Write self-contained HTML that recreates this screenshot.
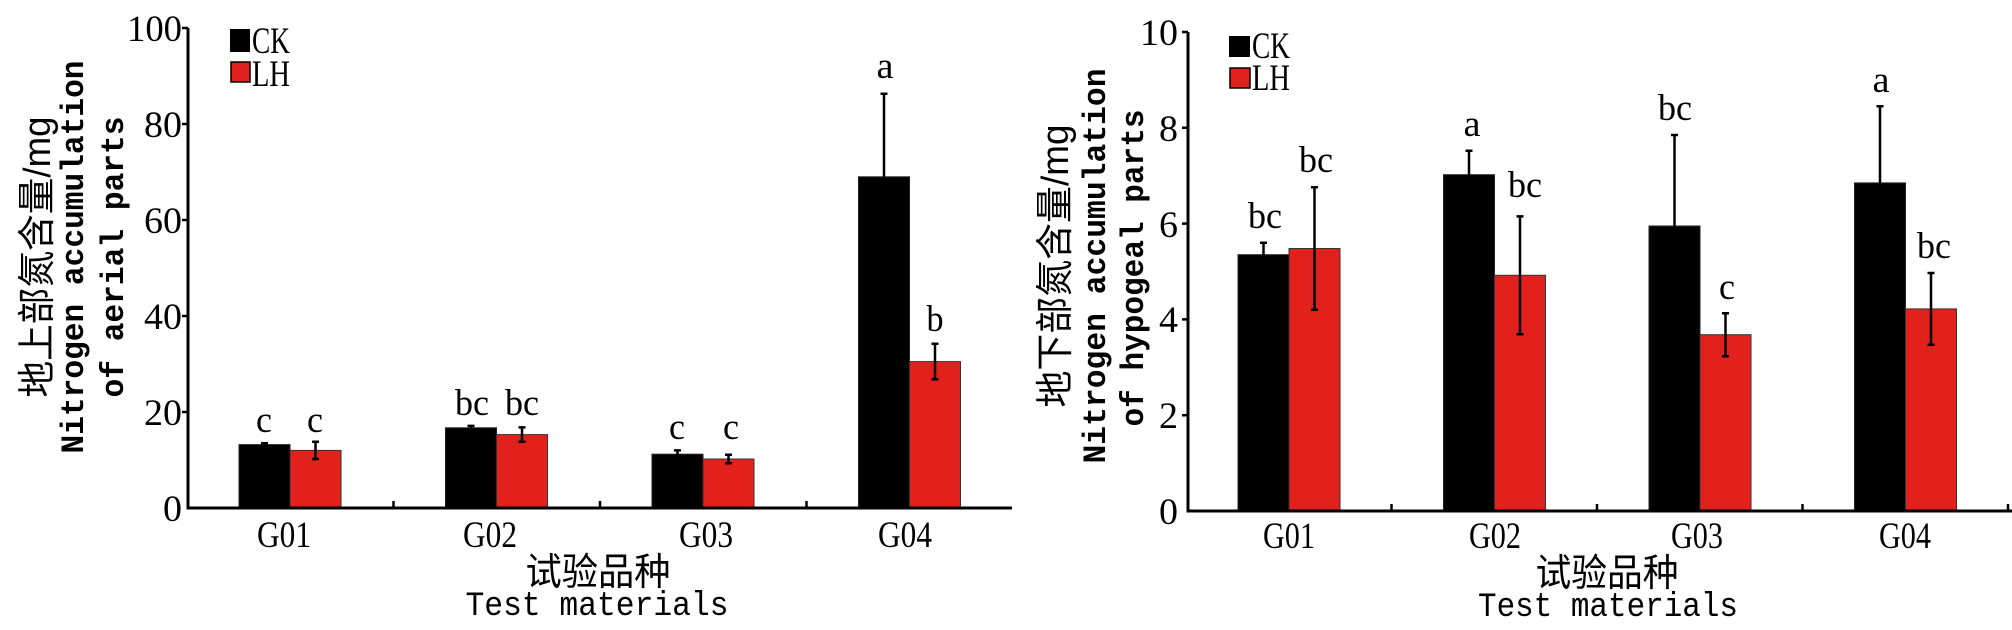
<!DOCTYPE html>
<html><head><meta charset="utf-8"><style>
html,body{margin:0;padding:0;background:#fff;}
svg{display:block;}
text{fill:#000;}
.n{font-family:"Liberation Serif",serif;font-size:37px;}
.m{font-family:"Liberation Mono",monospace;font-size:32px;font-weight:bold;}
.t{font-family:"Liberation Mono",monospace;font-size:34px;}
.c{font-family:"Liberation Sans","Noto Sans CJK SC",sans-serif;font-size:38px;}
.l{font-family:"Liberation Serif",serif;font-size:37px;}
</style></head><body>
<svg width="2012" height="630" viewBox="0 0 2012 630" xmlns="http://www.w3.org/2000/svg">
<g stroke="#000" fill="none">
<g>
<rect x="239" y="444.6" width="51" height="63.4" fill="#000" stroke="#222"/>
<rect x="290" y="450.4" width="51" height="57.6" fill="#e3211c" stroke="#333"/>
<rect x="445.5" y="427.8" width="51" height="80.2" fill="#000" stroke="#222"/>
<rect x="496.5" y="434.6" width="51" height="73.4" fill="#e3211c" stroke="#333"/>
<rect x="652" y="454.2" width="51" height="53.8" fill="#000" stroke="#222"/>
<rect x="703" y="459" width="51" height="49" fill="#e3211c" stroke="#333"/>
<rect x="858.5" y="176.8" width="51" height="331.2" fill="#000" stroke="#222"/>
<rect x="909.5" y="361.6" width="51" height="146.4" fill="#e3211c" stroke="#333"/>
</g>
<g stroke-width="2.5">
<path d="M264.5 443.2V446M261 443.2h7M261 446h7"/>
<path d="M315.5 441.8V459M312 441.8h7M312 459h7"/>
<path d="M471 425.9V429.7M467.5 425.9h7"/>
<path d="M522 427.4V441.8M518.5 427.4h7M518.5 441.8h7"/>
<path d="M677.5 450.4V458M674 450.4h7M674 458h7"/>
<path d="M728.5 454.7V463.3M725 454.7h7M725 463.3h7"/>
<path d="M884 93.8V176.8M880.5 93.8h7"/>
<path d="M935 343.8V379.4M931.5 343.8h7M931.5 379.4h7"/>
</g>
<path d="M188 28V508H1012" stroke-width="3"/>
<path d="M182 28h6M182 124h6M182 220h6M182 316h6M182 412h6M393.5 508v-7M600 508v-7M806.5 508v-7" stroke-width="2.5"/>
<g>
<rect x="1238" y="254.7" width="51" height="256.3" fill="#000" stroke="#222"/>
<rect x="1289" y="248.5" width="51" height="262.5" fill="#e3211c" stroke="#333"/>
<rect x="1443.5" y="174.7" width="51" height="336.3" fill="#000" stroke="#222"/>
<rect x="1494.5" y="275.3" width="51" height="235.7" fill="#e3211c" stroke="#333"/>
<rect x="1649" y="226" width="51" height="285" fill="#000" stroke="#222"/>
<rect x="1700" y="334.7" width="51" height="176.3" fill="#e3211c" stroke="#333"/>
<rect x="1854.5" y="182.9" width="51" height="328.1" fill="#000" stroke="#222"/>
<rect x="1905.5" y="308.9" width="51" height="202.1" fill="#e3211c" stroke="#333"/>
</g>
<g stroke-width="2.5">
<path d="M1263.5 242.7V254.7M1260 242.7h7"/>
<path d="M1314.5 187.2V309.8M1311 187.2h7M1311 309.8h7"/>
<path d="M1469 150.8V174.7M1465.5 150.8h7"/>
<path d="M1520 216.4V334.2M1516.5 216.4h7M1516.5 334.2h7"/>
<path d="M1674.5 135V226M1671 135h7"/>
<path d="M1725.5 313.2V356.3M1722 313.2h7M1722 356.3h7"/>
<path d="M1880 106.3V182.9M1876.5 106.3h7"/>
<path d="M1931 273V344.8M1927.5 273h7M1927.5 344.8h7"/>
</g>
<path d="M1188 32V511H2012" stroke-width="3"/>
<path d="M1182 32h6M1182 127.8h6M1182 223.6h6M1182 319.4h6M1182 415.2h6M1391.5 511v-7M1597 511v-7M1802.5 511v-7M2008 511v-7" stroke-width="2.5"/>
</g>
<rect x="230" y="29" width="20" height="23" fill="#000"/>
<rect x="231" y="62" width="19" height="20" fill="#e3211c" stroke="#000" stroke-width="1.5"/>
<text class="l" x="252" y="53" textLength="38" lengthAdjust="spacingAndGlyphs">CK</text>
<text class="l" x="252" y="86" textLength="38" lengthAdjust="spacingAndGlyphs">LH</text>
<rect x="1229" y="36" width="21" height="21" fill="#000"/>
<rect x="1230" y="68" width="20" height="20" fill="#e3211c" stroke="#000" stroke-width="1.5"/>
<text class="l" x="1252" y="58" textLength="38" lengthAdjust="spacingAndGlyphs">CK</text>
<text class="l" x="1252" y="90" textLength="38" lengthAdjust="spacingAndGlyphs">LH</text>
<g class="n" text-anchor="end">
<text x="182" y="41" textLength="55" lengthAdjust="spacingAndGlyphs">100</text>
<text x="182" y="137" textLength="38" lengthAdjust="spacingAndGlyphs">80</text>
<text x="182" y="233" textLength="38" lengthAdjust="spacingAndGlyphs">60</text>
<text x="182" y="329" textLength="38" lengthAdjust="spacingAndGlyphs">40</text>
<text x="182" y="425" textLength="38" lengthAdjust="spacingAndGlyphs">20</text>
<text x="182" y="521" textLength="19" lengthAdjust="spacingAndGlyphs">0</text>
<text x="1178" y="45" textLength="38" lengthAdjust="spacingAndGlyphs">10</text>
<text x="1178" y="141" textLength="19" lengthAdjust="spacingAndGlyphs">8</text>
<text x="1178" y="237" textLength="19" lengthAdjust="spacingAndGlyphs">6</text>
<text x="1178" y="332" textLength="19" lengthAdjust="spacingAndGlyphs">4</text>
<text x="1178" y="428" textLength="19" lengthAdjust="spacingAndGlyphs">2</text>
<text x="1178" y="524" textLength="19" lengthAdjust="spacingAndGlyphs">0</text>
</g>
<g class="n" text-anchor="middle">
<text x="284" y="547" textLength="54" lengthAdjust="spacingAndGlyphs">G01</text>
<text x="490" y="547" textLength="54" lengthAdjust="spacingAndGlyphs">G02</text>
<text x="706" y="547" textLength="54" lengthAdjust="spacingAndGlyphs">G03</text>
<text x="905" y="547" textLength="54" lengthAdjust="spacingAndGlyphs">G04</text>
<text x="1289" y="548" textLength="52" lengthAdjust="spacingAndGlyphs">G01</text>
<text x="1495" y="548" textLength="52" lengthAdjust="spacingAndGlyphs">G02</text>
<text x="1697" y="548" textLength="52" lengthAdjust="spacingAndGlyphs">G03</text>
<text x="1905" y="548" textLength="52" lengthAdjust="spacingAndGlyphs">G04</text>
</g>
<g class="n" text-anchor="middle">
<text x="264" y="432" textLength="16" lengthAdjust="spacingAndGlyphs">c</text>
<text x="315" y="432" textLength="16" lengthAdjust="spacingAndGlyphs">c</text>
<text x="472" y="415" textLength="34" lengthAdjust="spacingAndGlyphs">bc</text>
<text x="522" y="415" textLength="34" lengthAdjust="spacingAndGlyphs">bc</text>
<text x="677" y="439" textLength="16" lengthAdjust="spacingAndGlyphs">c</text>
<text x="731" y="439" textLength="16" lengthAdjust="spacingAndGlyphs">c</text>
<text x="885" y="78" textLength="17" lengthAdjust="spacingAndGlyphs">a</text>
<text x="935" y="331" textLength="17" lengthAdjust="spacingAndGlyphs">b</text>
<text x="1265" y="228" textLength="34" lengthAdjust="spacingAndGlyphs">bc</text>
<text x="1316" y="172" textLength="34" lengthAdjust="spacingAndGlyphs">bc</text>
<text x="1472" y="136" textLength="17" lengthAdjust="spacingAndGlyphs">a</text>
<text x="1525" y="197" textLength="34" lengthAdjust="spacingAndGlyphs">bc</text>
<text x="1675" y="120" textLength="34" lengthAdjust="spacingAndGlyphs">bc</text>
<text x="1727" y="299" textLength="16" lengthAdjust="spacingAndGlyphs">c</text>
<text x="1881" y="92" textLength="17" lengthAdjust="spacingAndGlyphs">a</text>
<text x="1934" y="258" textLength="34" lengthAdjust="spacingAndGlyphs">bc</text>
</g>
<text class="c" x="598" y="585" text-anchor="middle" textLength="145" lengthAdjust="spacingAndGlyphs">试验品种</text>
<text class="t" x="597" y="615" text-anchor="middle" textLength="263" lengthAdjust="spacingAndGlyphs">Test materials</text>
<text class="c" x="1607" y="586" text-anchor="middle" textLength="143" lengthAdjust="spacingAndGlyphs">试验品种</text>
<text class="t" x="1608" y="616" text-anchor="middle" textLength="260" lengthAdjust="spacingAndGlyphs">Test materials</text>
<text class="c" transform="translate(50,257) rotate(-90)" text-anchor="middle" textLength="281" lengthAdjust="spacingAndGlyphs">地上部氮含量/mg</text>
<text class="m" transform="translate(83,257) rotate(-90)" text-anchor="middle" textLength="393" lengthAdjust="spacingAndGlyphs">Nitrogen accumulation</text>
<text class="m" transform="translate(123,257) rotate(-90)" text-anchor="middle" textLength="281" lengthAdjust="spacingAndGlyphs">of aerial parts</text>
<text class="c" transform="translate(1068,266) rotate(-90)" text-anchor="middle" textLength="283" lengthAdjust="spacingAndGlyphs">地下部氮含量/mg</text>
<text class="m" transform="translate(1105,266) rotate(-90)" text-anchor="middle" textLength="395" lengthAdjust="spacingAndGlyphs">Nitrogen accumulation</text>
<text class="m" transform="translate(1143,268) rotate(-90)" text-anchor="middle" textLength="317" lengthAdjust="spacingAndGlyphs">of hypogeal parts</text>
</svg>
</body></html>
